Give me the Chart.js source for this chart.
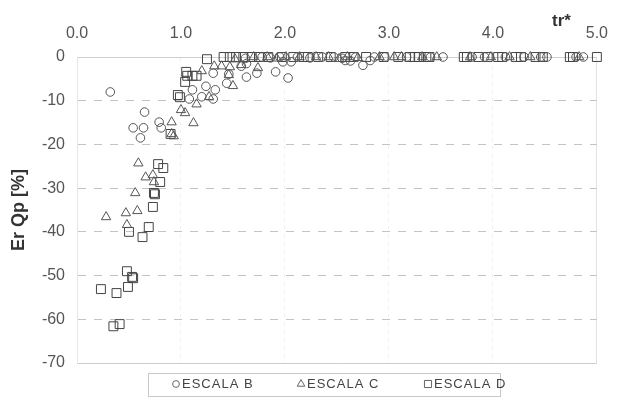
<!DOCTYPE html>
<html>
<head>
<meta charset="UTF-8">
<title>Er Qp - tr*</title>
<script src="https://cdn.jsdelivr.net/npm/chart.js@4.4.1/dist/chart.umd.min.js"></script>
<style>
    html, body { margin: 0; padding: 0; background: #ffffff; }
</style>
</head>
<body>
<canvas id="grafica" width="622" height="397"></canvas>
<script>
// pares [tr*, Er Qp %] por escala
const escalaB = [
    [0.32, -8.0], [0.54, -16.2], [0.64, -16.2], [0.61, -18.5], [0.65, -12.6], [0.79, -14.9], [0.81, -16.2],
    [1.08, -9.6], [1.11, -7.5], [1.20, -9.1], [1.24, -6.7], [1.31, -9.6], [1.33, -7.5], [1.31, -3.7],
    [1.44, -6.0], [1.46, -3.9], [1.63, -4.6], [1.73, -3.7], [1.91, -3.4], [2.03, -4.8], [2.06, -1.1],
    [1.98, -1.1], [1.63, -1.5], [1.58, -2.1], [2.58, -0.8], [2.63, -0.9], [2.75, -1.9], [2.82, -0.8],
    [1.62, -0.3], [1.78, 0], [1.86, -0.2], [1.95, 0], [2.12, 0], [2.24, -0.2], [2.36, 0], [2.47, 0],
    [2.55, -0.3], [2.68, 0], [2.86, 0], [2.96, 0], [3.17, 0], [3.40, 0], [3.52, 0], [3.80, 0], [3.92, 0],
    [4.12, 0], [4.30, 0], [4.46, 0], [4.52, 0], [4.80, 0], [4.87, 0]
];

const escalaC = [
    [0.28, -36.6], [0.47, -35.7], [0.58, -35.2], [0.48, -38.4], [0.56, -31.1], [0.59, -24.3], [0.66, -27.5],
    [0.73, -27.0], [0.74, -28.6], [0.91, -14.9], [0.93, -18.1], [0.91, -17.6], [1.00, -12.1], [1.04, -12.8],
    [1.12, -15.1], [1.15, -10.8], [1.20, -3.2], [1.27, -9.1], [1.32, -2.1], [1.39, -2.1], [1.47, -2.3],
    [1.46, -4.1], [1.50, -6.6], [1.58, -1.8], [1.74, -2.5],
    [1.52, -0.5], [1.70, 0], [1.83, 0], [1.92, -0.3], [2.01, 0], [2.14, 0], [2.30, 0], [2.42, 0],
    [2.52, -0.4], [2.60, 0], [2.70, -0.2], [2.91, 0], [3.05, 0], [3.12, 0], [3.32, 0], [3.46, 0],
    [3.78, 0], [3.98, 0], [4.16, 0], [4.36, 0], [4.83, 0]
];

const escalaD = [
    [0.23, -53.1], [0.38, -54.0], [0.48, -49.0], [0.53, -50.3], [0.54, -50.6], [0.49, -52.6], [0.35, -61.6],
    [0.41, -61.1], [0.50, -40.0], [0.63, -41.2], [0.69, -38.9], [0.73, -34.3], [0.74, -31.1], [0.75, -31.4],
    [0.80, -28.6], [0.78, -24.5], [0.83, -25.4], [0.90, -17.6], [0.97, -8.7], [0.99, -9.2], [1.04, -5.7],
    [1.05, -3.4], [1.06, -4.3], [1.11, -4.3], [1.15, -4.3], [1.25, -0.5],
    [1.41, 0], [1.47, 0], [1.53, 0], [1.60, 0], [1.68, 0], [1.75, 0], [1.84, 0], [1.97, 0], [2.08, 0],
    [2.18, 0], [2.22, 0], [2.32, 0], [2.44, 0], [2.58, 0], [2.66, 0], [2.78, 0], [2.95, 0], [3.09, 0],
    [3.20, 0], [3.25, 0], [3.29, 0], [3.36, 0], [3.39, 0], [3.72, 0], [3.75, 0], [3.86, 0], [3.95, 0],
    [4.05, 0], [4.09, 0], [4.22, 0], [4.27, 0], [4.41, 0], [4.48, 0], [4.74, 0], [4.77, 0], [5.00, 0]
];

const series = ['ESCALA B', 'ESCALA C', 'ESCALA D'];
const xTicks = [0, 1, 2, 3, 4, 5];
const yTicks = [0, -10, -20, -30, -40, -50, -60, -70];

const estilos = [
    {pointStyle: 'circle', radius: 4.3, color: '#555555'},
    {pointStyle: 'triangle', radius: 5.4, color: '#555555'},
    {pointStyle: 'rect', radius: 6.3, color: '#444444'}
];

const fuente = '"Liberation Sans", Arial, sans-serif';

// leyenda dibujada a mano, dentro de un recuadro bajo el area de datos
const leyendaPlugin = {
    id: 'leyendaEscalas',
    afterDraw(chart) {
        const ctx = chart.ctx;
        ctx.save();
        ctx.strokeStyle = '#c8c8c8';
        ctx.lineWidth = 1;
        ctx.strokeRect(148.5, 373.5, 352, 23);

        ctx.font = '13px ' + fuente;
        if ('letterSpacing' in ctx) ctx.letterSpacing = '1px';
        ctx.textBaseline = 'middle';
        const posiciones = [176, 301, 428];
        chart.data.datasets.forEach((ds, i) => {
            const est = estilos[i];
            ctx.strokeStyle = '#666666';
            ctx.fillStyle = 'rgba(0,0,0,0)';
            ctx.lineWidth = 1;
            Chart.helpers.drawPoint(ctx, {
                pointStyle: est.pointStyle,
                radius: est.pointStyle === 'rect' ? 5 : (est.pointStyle === 'triangle' ? 4.4 : 3.4),
                borderWidth: 1
            }, posiciones[i], 384);
            ctx.fillStyle = '#444444';
            ctx.fillText(ds.label, posiciones[i] + 6, 384);
        });
        ctx.restore();
    }
};

// etiqueta del eje x (tr*) en el extremo derecho, sobre los ticks
const tituloXPlugin = {
    id: 'tituloX',
    afterDraw(chart) {
        const ctx = chart.ctx;
        const xs = chart.scales.x;
        ctx.save();
        ctx.font = 'bold 17px ' + fuente;
        ctx.fillStyle = '#333333';
        ctx.textAlign = 'center';
        ctx.textBaseline = 'alphabetic';
        ctx.fillText('tr*', xs.getPixelForValue(4.66), 26);
        ctx.restore();
    }
};

const ctx = document.getElementById('grafica').getContext('2d');

new Chart(ctx, {
    type: 'scatter',
    data: {
        datasets: [escalaB, escalaC, escalaD].map((datos, i) => ({
            label: series[i],
            data: datos.map(p => ({x: p[0], y: p[1]})),
            pointStyle: estilos[i].pointStyle,
            pointRadius: estilos[i].radius,
            pointHoverRadius: estilos[i].radius,
            pointBorderWidth: 1,
            borderColor: estilos[i].color,
            backgroundColor: 'rgba(0,0,0,0)',
            clip: false
        }))
    },
    options: {
        responsive: false,
        animation: false,
        layout: {
            padding: {left: 0, right: 11, top: 0, bottom: 34}
        },
        scales: {
            x: {
                type: 'linear',
                position: 'top',
                min: 0,
                max: 5,
                afterFit: s => { s.height = 57; },
                afterBuildTicks: s => { s.ticks = xTicks.map(v => ({value: v})); },
                ticks: {
                    padding: 14,
                    color: '#555555',
                    font: {family: fuente, size: 16},
                    callback: v => v.toFixed(1)
                },
                grid: {
                    drawTicks: false,
                    color: c => (c.tick && c.tick.value === 5) ? '#e2e2e2' : (c.tick && c.tick.value === 0 ? 'rgba(0,0,0,0)' : '#efefef'),
                    lineWidth: 1
                },
                border: {
                    display: true,
                    color: '#cfcfcf',
                    dash: c => (c.tick && c.tick.value > 0 && c.tick.value < 5) ? [3, 5] : []
                }
            },
            y: {
                min: -70,
                max: 0,
                afterFit: s => { s.width = 77; },
                afterBuildTicks: s => { s.ticks = yTicks.map(v => ({value: v})); },
                title: {
                    display: true,
                    text: 'Er Qp [%]',
                    color: '#333333',
                    font: {family: fuente, size: 18, weight: 'bold'},
                    padding: {top: 8, bottom: 0}
                },
                ticks: {
                    padding: 12,
                    color: '#555555',
                    font: {family: fuente, size: 16}
                },
                grid: {
                    drawTicks: false,
                    color: c => (c.tick && (c.tick.value === 0 || c.tick.value === -70)) ? '#cccccc' : '#c4c4c4',
                    lineWidth: 1
                },
                border: {
                    display: true,
                    color: '#e6e6e6',
                    dash: c => (c.tick && c.tick.value !== 0 && c.tick.value !== -70) ? [8, 8] : []
                }
            }
        },
        plugins: {
            legend: {display: false},
            tooltip: {enabled: false}
        }
    },
    plugins: [leyendaPlugin, tituloXPlugin]
});
</script>
</body>
</html>
